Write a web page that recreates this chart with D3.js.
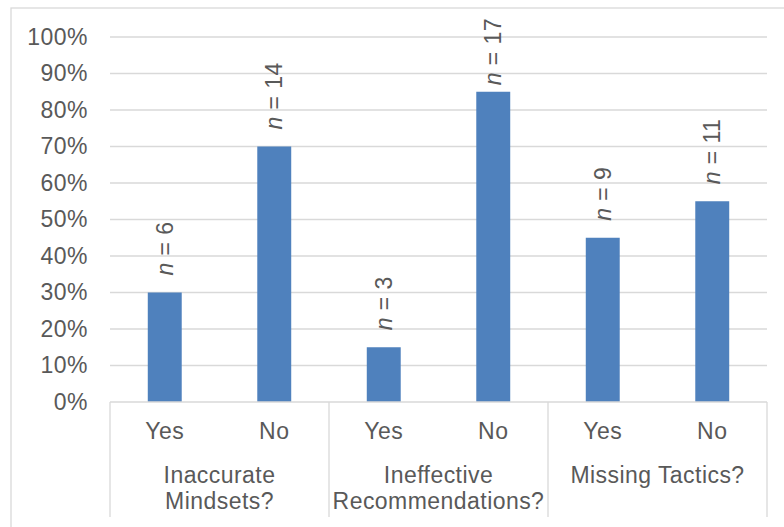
<!DOCTYPE html>
<html>
<head>
<meta charset="utf-8">
<script src="https://cdn.jsdelivr.net/npm/d3@7"></script>
<style>
  html, body { margin: 0; padding: 0; background: #fff; }
  svg { display: block; }
  text { font-family: "Liberation Sans", Arial, sans-serif; fill: #595959; letter-spacing: 0.45px; }
</style>
</head>
<body>
<svg id="chart" width="784" height="527"></svg>
<script>
// Share of responses per question, Yes / No
const groups = [["Inaccurate", "Mindsets?"], ["Ineffective", "Recommendations?"], ["Missing Tactics?"]];
const answers = ["Yes", "No"];
const shares = [0.30, 0.70, 0.15, 0.85, 0.45, 0.55];
const counts = [6, 14, 3, 17, 9, 11];
const yTicks = [0, 0.1, 0.2, 0.3, 0.4, 0.5, 0.6, 0.7, 0.8, 0.9, 1.0];

const W = 784, H = 527;
const plot = { left: 110, right: 767, top: 37, bottom: 402 };
const axisBottom = 517;
const fontSize = 23;
const grey = "#D9D9D9";

const svg = d3.select("#chart");

// Chart-area frame
svg.append("rect")
  .attr("x", 11).attr("y", 8)
  .attr("width", W + 20).attr("height", H + 20)
  .attr("fill", "none").attr("stroke", grey).attr("stroke-width", 1.3);

const bars = shares.map((v, i) => ({
  i, v, n: counts[i],
  answer: answers[i % 2],
  group: Math.floor(i / 2)
}));

const x = d3.scaleBand()
  .domain(d3.range(bars.length))
  .range([plot.left, plot.right])
  .paddingInner(0.69)
  .paddingOuter(0.345);

const y = d3.scaleLinear().domain([0, 1]).range([plot.bottom, plot.top]);

// Horizontal gridlines
svg.append("g").selectAll("line")
  .data(yTicks.filter(t => t > 0))
  .join("line")
  .attr("x1", plot.left).attr("x2", plot.right)
  .attr("y1", d => y(d)).attr("y2", d => y(d))
  .attr("stroke", grey).attr("stroke-width", 1.3);

// Y axis tick labels
const yAxis = d3.axisLeft(y)
  .tickValues(yTicks)
  .tickFormat(d3.format(".0%"))
  .tickSize(0)
  .tickPadding(22);
const yg = svg.append("g").attr("transform", `translate(${plot.left},0)`).call(yAxis);
yg.select(".domain").remove();
yg.selectAll("text")
  .attr("font-size", fontSize)
  .style("font-family", "'Liberation Sans', Arial, sans-serif")
  .attr("fill", "#595959");

// Bars
svg.append("g").selectAll("rect")
  .data(bars)
  .join("rect")
  .attr("x", d => x(d.i))
  .attr("y", d => y(d.v))
  .attr("width", x.bandwidth())
  .attr("height", d => y(0) - y(d.v))
  .attr("fill", "#4F81BD");

// Category axis line and group separators
const step = x.step();
const groupEdges = d3.range(groups.length + 1).map(g => plot.left + g * 2 * step);
svg.append("line")
  .attr("x1", plot.left).attr("x2", plot.right)
  .attr("y1", plot.bottom).attr("y2", plot.bottom)
  .attr("stroke", grey).attr("stroke-width", 1.3);
svg.append("g").selectAll("line")
  .data(groupEdges)
  .join("line")
  .attr("x1", d => d).attr("x2", d => d)
  .attr("y1", plot.bottom).attr("y2", axisBottom)
  .attr("stroke", grey).attr("stroke-width", 1.3);

// Answer labels
svg.append("g").selectAll("text")
  .data(bars)
  .join("text")
  .attr("x", d => x(d.i) + x.bandwidth() / 2)
  .attr("y", 439)
  .attr("text-anchor", "middle")
  .attr("font-size", fontSize)
  .text(d => d.answer);

// Question labels
const gl = svg.append("g").selectAll("text")
  .data(groups)
  .join("text")
  .attr("x", (d, g) => (groupEdges[g] + groupEdges[g + 1]) / 2)
  .attr("y", 483)
  .attr("text-anchor", "middle")
  .attr("font-size", fontSize);
gl.selectAll("tspan")
  .data(d => d)
  .join("tspan")
  .attr("x", function () { return d3.select(this.parentNode).attr("x"); })
  .attr("dy", (d, k) => k === 0 ? 0 : 26)
  .text(d => d);

// Sample-size labels, rotated above each bar
const labelTopLimit = 18;
const nl = svg.append("g").selectAll("text")
  .data(bars)
  .join("text")
  .attr("font-size", fontSize)
  .attr("dy", "0.35em");
nl.append("tspan").attr("font-style", "italic").text("n");
nl.append("tspan").text(d => ` = ${d.n}`);
nl.each(function (d) {
  const len = this.getComputedTextLength();
  let start = y(d.v) - 17;
  if (start - len < labelTopLimit) start = labelTopLimit + len;
  const cx = x(d.i) + x.bandwidth() / 2;
  d3.select(this).attr("transform", `translate(${cx},${start}) rotate(-90)`);
});
</script>
</body>
</html>
